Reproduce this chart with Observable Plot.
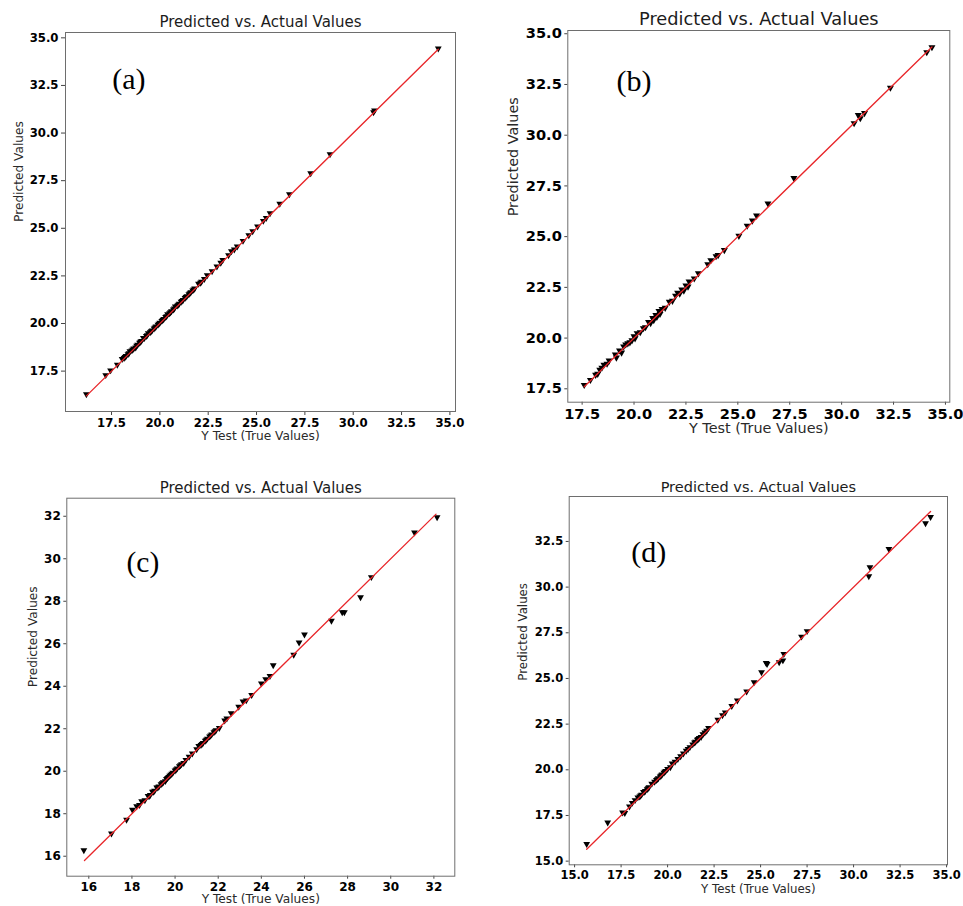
<!DOCTYPE html>
<html><head><meta charset="utf-8">
<script src="https://cdn.jsdelivr.net/npm/d3@7"></script>
<script src="https://cdn.jsdelivr.net/npm/@observablehq/plot@0.6"></script>
<style>
body{margin:0;background:#fff;}
#root{position:relative;width:963px;height:906px;overflow:hidden;background:#fff;}
.panel{position:absolute;}
.panel svg{overflow:visible;}
</style></head><body><div id="root"></div>
<script>
const titleText = "Predicted vs. Actual Values";
const xLabelText = "Y Test (True Values)";
const yLabelText = "Predicted Values";
const panelLetters = ["(a)", "(b)", "(c)", "(d)"];

// Panel (a)
const aTrue = [16.2,17.2,17.45,17.8,18.05,18.15,18.2,18.25,18.35,18.4,18.45,18.55,18.6,18.65,18.75,18.8,18.85,18.95,19.0,19.05,19.15,19.2,19.3,19.35,19.4,19.5,19.55,19.6,19.7,19.75,19.8,19.9,19.95,20.0,20.1,20.15,20.2,20.3,20.35,20.4,20.5,20.55,20.6,20.7,20.75,20.8,20.9,20.95,21.0,21.1,21.15,21.2,21.3,21.35,21.4,21.5,21.55,21.6,21.7,21.75,21.8,22.0,22.1,22.15,22.3,22.45,22.7,22.95,23.15,23.25,23.55,23.7,23.85,24.0,24.3,24.6,24.8,25.05,25.35,25.5,25.7,26.2,26.7,27.8,28.8,31.05,31.1,34.4];
const aPred = [16.25,17.25,17.5,17.8,18.1,18.15,18.2,18.25,18.35,18.4,18.5,18.55,18.6,18.65,18.7,18.8,18.85,18.95,19.0,19.05,19.2,19.2,19.3,19.35,19.45,19.5,19.55,19.6,19.7,19.75,19.8,19.9,19.95,20.0,20.1,20.15,20.2,20.3,20.35,20.45,20.5,20.55,20.6,20.7,20.75,20.85,20.9,20.95,21.0,21.1,21.15,21.2,21.3,21.35,21.4,21.5,21.55,21.6,21.7,21.75,21.8,22.05,22.1,22.15,22.3,22.5,22.7,22.95,23.15,23.3,23.55,23.75,23.85,24.0,24.3,24.6,24.8,25.05,25.35,25.5,25.75,26.25,26.75,27.85,28.85,31.05,31.15,34.4];
const aLine = [16.2, 34.4];
const aXTicks = [17.5,20,22.5,25,27.5,30,32.5,35];
const aYTicks = [17.5,20,22.5,25,27.5,30,32.5,35];

// Panel (b)
const bTrue = [17.6,17.9,18.15,18.25,18.35,18.45,18.55,18.7,18.8,19.1,19.15,19.3,19.4,19.5,19.6,19.7,19.8,19.9,20.0,20.05,20.15,20.3,20.45,20.55,20.7,20.8,20.9,20.95,21.05,21.1,21.2,21.25,21.35,21.5,21.7,21.85,22.0,22.1,22.2,22.3,22.4,22.5,22.6,22.65,22.9,23.1,23.55,23.7,23.95,24.05,24.35,25.05,25.45,25.7,25.9,26.45,27.7,30.6,30.8,30.9,31.1,32.35,34.1,34.35];
const bPred = [17.65,17.9,18.15,18.2,18.4,18.5,18.65,18.7,18.85,19.15,19.0,19.35,19.25,19.55,19.65,19.7,19.75,19.85,20.05,19.95,20.2,20.25,20.45,20.5,20.75,20.7,20.95,20.85,21.1,21.0,21.3,21.15,21.4,21.45,21.75,21.8,22.05,22.2,22.15,22.35,22.3,22.55,22.5,22.75,22.9,23.15,23.6,23.8,24.0,24.05,24.3,25.0,25.5,25.75,26.0,26.6,27.85,30.55,30.95,30.8,31.05,32.3,34.05,34.3];
const bLine = [17.6, 34.35];
const bXTicks = [17.5,20,22.5,25,27.5,30,32.5,35];
const bYTicks = [17.5,20,22.5,25,27.5,30,32.5,35];

// Panel (c)
const cTrue = [15.77,17.05,17.75,18.02,18.22,18.35,18.45,18.6,18.75,18.8,18.85,18.95,19.0,19.05,19.15,19.2,19.25,19.35,19.4,19.45,19.55,19.6,19.65,19.7,19.75,19.8,19.85,19.9,20.0,20.05,20.1,20.2,20.25,20.3,20.4,20.5,20.65,20.8,21.0,21.1,21.2,21.25,21.3,21.4,21.45,21.5,21.6,21.65,21.7,21.8,21.85,21.9,22.05,22.3,22.4,22.6,22.95,23.15,23.3,23.55,24.0,24.2,24.4,24.55,25.5,25.75,26.0,27.25,27.75,27.85,28.6,29.1,31.1,32.15];
const cPred = [16.25,17.03,17.68,18.15,18.32,18.38,18.55,18.6,18.8,18.8,18.85,19.0,19.0,19.05,19.2,19.2,19.25,19.35,19.4,19.45,19.5,19.6,19.65,19.7,19.75,19.8,19.85,19.9,20.0,20.05,20.1,20.2,20.25,20.3,20.35,20.5,20.65,20.8,21.0,21.15,21.2,21.25,21.3,21.4,21.45,21.5,21.6,21.65,21.7,21.8,21.85,21.9,22.0,22.35,22.45,22.7,23.0,23.25,23.3,23.55,24.1,24.3,24.45,24.95,25.45,26.02,26.4,27.05,27.45,27.45,28.15,29.1,31.2,31.92];
const cLine = [15.8, 32.1];
const cXTicks = [16,18,20,22,24,26,28,30,32];
const cYTicks = [16,18,20,22,24,26,28,30,32];

// Panel (d)
const dTrue = [15.65,16.78,17.58,17.7,17.95,18.1,18.25,18.4,18.5,18.55,18.6,18.7,18.75,18.8,18.9,18.95,19.0,19.15,19.3,19.4,19.45,19.5,19.6,19.65,19.7,19.8,19.85,19.9,20.0,20.15,20.25,20.4,20.55,20.7,20.85,21.0,21.1,21.2,21.35,21.45,21.5,21.6,21.65,21.7,21.8,21.9,22.0,22.1,22.2,22.7,22.95,23.1,23.45,23.75,24.25,24.65,25.05,25.3,25.35,26.0,26.2,26.25,27.2,27.5,30.82,30.88,31.9,33.87,34.14];
const dPred = [15.9,17.08,17.62,17.6,17.95,18.15,18.3,18.45,18.5,18.55,18.6,18.75,18.75,18.8,18.9,18.95,19.0,19.2,19.3,19.4,19.45,19.5,19.6,19.65,19.7,19.8,19.85,19.9,20.0,20.1,20.3,20.4,20.55,20.7,20.85,21.0,21.1,21.2,21.35,21.45,21.5,21.6,21.65,21.7,21.75,21.9,22.0,22.1,22.25,22.7,22.95,23.1,23.45,23.75,24.25,24.75,25.3,25.8,25.75,25.85,25.95,26.3,27.25,27.55,30.55,31.05,32.05,33.45,33.8];
const dLine = [15.65, 34.14];
const dXTicks = [15,17.5,20,22.5,25,27.5,30,32.5,35];
const dYTicks = [15,17.5,20,22.5,25,27.5,30,32.5];

const panelData = [
  {tru: aTrue, pred: aPred, line: aLine, xt: aXTicks, yt: aYTicks, fmt: d => d.toFixed(1)},
  {tru: bTrue, pred: bPred, line: bLine, xt: bXTicks, yt: bYTicks, fmt: d => d.toFixed(1)},
  {tru: cTrue, pred: cPred, line: cLine, xt: cXTicks, yt: cYTicks, fmt: d => String(d)},
  {tru: dTrue, pred: dPred, line: dLine, xt: dXTicks, yt: dYTicks, fmt: d => d.toFixed(1)}
];

// layout (positions / sizes / styles)
const layouts = [
  {left:0, top:0, width:480, height:450, ml:65, mr:25, mt:32, mb:39, xd:[15.12,35.29], yd:[15.38,35.28], tickFont:11.7, titleFont:15, labelFont:12.2, titleDy:-10, xLabDy:25, yLabDx:-46, letterFont:30, letterDx:46.7, letterDy:47, tickSize:4, tickPad:3, r:3.4},
  {left:480, top:0, width:483, height:450, ml:87.3, mr:13.7, mt:30, mb:48.3, xd:[16.81,35.21], yd:[16.84,35.16], tickFont:14.6, titleFont:17.8, labelFont:14.4, titleDy:-11, xLabDy:26.3, yLabDx:-54.3, letterFont:30, letterDx:48.7, letterDy:50.5, tickSize:3, tickPad:3, r:3.5},
  {left:0, top:450, width:480, height:456, ml:66.3, mr:25.7, mt:47.7, mb:30.3, xd:[14.98,32.97], yd:[15.06,32.85], tickFont:12, titleFont:15, labelFont:12.2, titleDy:-10, xLabDy:23.2, yLabDx:-33.3, letterFont:29.5, letterDx:59.7, letterDy:64.3, tickSize:3, tickPad:3, r:3.4},
  {left:480, top:450, width:483, height:456, ml:88.7, mr:16, mt:46, mb:41.7, xd:[14.71,35.05], yd:[14.8,34.96], tickFont:11.5, titleFont:14.5, labelFont:11.8, titleDy:-9.3, xLabDy:24.7, yLabDx:-45.7, letterFont:30, letterDx:62, letterDy:56, tickSize:3, tickPad:3, r:3.4}
];

const triangleDown = {
  draw(context, size) {
    const r = Math.sqrt(size / Math.PI);
    context.moveTo(-r, -0.8 * r);
    context.lineTo(r, -0.8 * r);
    context.lineTo(0, 0.95 * r);
    context.closePath();
  }
};

const root = document.getElementById("root");
panelData.forEach((pd, i) => {
  const L = layouts[i];
  const pts = pd.tru.map((t, k) => ({t, p: pd.pred[k]}));
  const linePts = pd.line.map(v => ({t: v, p: v}));
  const svg = Plot.plot({
    width: L.width,
    height: L.height,
    marginLeft: L.ml, marginRight: L.mr, marginTop: L.mt, marginBottom: L.mb,
    style: {fontFamily: "DejaVu Sans", background: "white", color: "black"},
    x: {domain: L.xd},
    y: {domain: L.yd},
    marks: [
      Plot.axisX({ticks: pd.xt, tickFormat: pd.fmt, label: null, fontSize: L.tickFont, fontWeight: "bold", fill: "black", stroke: "#444", tickSize: L.tickSize, tickPadding: L.tickPad}),
      Plot.axisY({ticks: pd.yt, tickFormat: pd.fmt, label: null, fontSize: L.tickFont, fontWeight: "bold", fill: "black", stroke: "#444", tickSize: L.tickSize, tickPadding: L.tickPad}),
      Plot.dot(pts, {x: "t", y: "p", symbol: triangleDown, r: L.r, fill: "black", stroke: "none"}),
      Plot.line(linePts, {x: "t", y: "p", stroke: "#e8262a", strokeWidth: 1.3}),
      Plot.frame({stroke: "#6e6e6e", strokeWidth: 1}),
      Plot.text([titleText], {text: d => d, frameAnchor: "top", lineAnchor: "middle", dy: L.titleDy, fontSize: L.titleFont, fontWeight: "normal", fill: "#1c1c1c"}),
      Plot.text([xLabelText], {text: d => d, frameAnchor: "bottom", lineAnchor: "middle", dy: L.xLabDy, fontSize: L.labelFont, fontWeight: "normal", fill: "#2a2a2a"}),
      Plot.text([yLabelText], {text: d => d, frameAnchor: "left", lineAnchor: "middle", dx: L.yLabDx, rotate: -90, fontSize: L.labelFont, fontWeight: "normal", fill: "#2a2a2a"}),
      Plot.text([panelLetters[i]], {text: d => d, frameAnchor: "top-left", lineAnchor: "middle", textAnchor: "start", dx: L.letterDx, dy: L.letterDy, fontSize: L.letterFont, fontFamily: "Liberation Serif", fontWeight: "normal", fill: "black"})
    ]
  });
  const div = document.createElement("div");
  div.className = "panel";
  div.style.left = L.left + "px";
  div.style.top = L.top + "px";
  div.appendChild(svg);
  root.appendChild(div);
});
</script>
</body></html>
